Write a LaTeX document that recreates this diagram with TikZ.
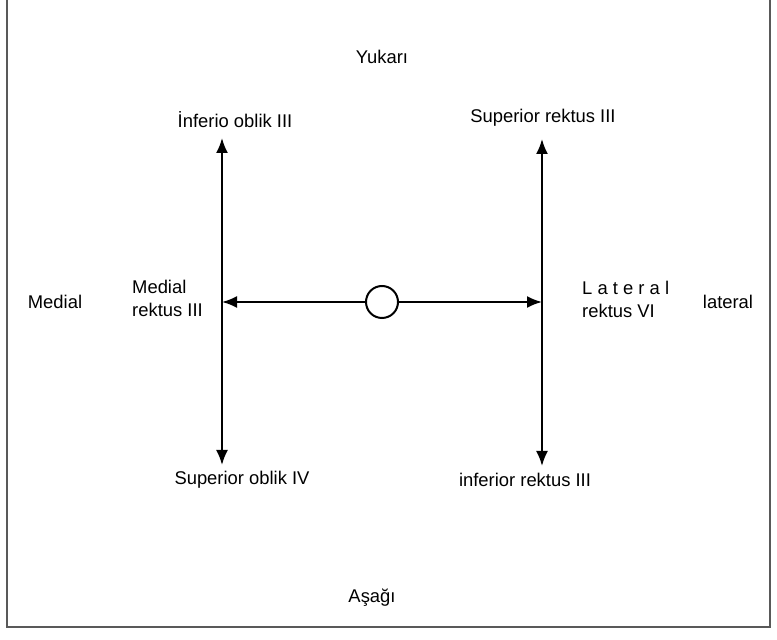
\documentclass[tikz,border=0pt]{standalone}
\usepackage{fontspec}
\setmainfont{Liberation Sans}
\usetikzlibrary{arrows.meta}

\begin{document}
\begin{tikzpicture}[
  x=1pt, y=1pt,
  lbl/.style={inner sep=0pt, font=\fontsize{18.4}{23}\selectfont},
  arrow/.style={-{Latex[length=15pt,width=12pt]}, line width=2pt},
  twoway/.style={{Latex[length=15pt,width=12pt]}-{Latex[length=15pt,width=12pt]}, line width=2pt},
  eye/.style={circle, draw, line width=2pt, minimum size=32pt, inner sep=0pt, fill=white}
]
  \useasboundingbox (0,0) rectangle (777,640);
  % frame
  \draw[line width=1.5pt, black!65] (7,640) -- (7,13) -- (770,13) -- (770,640);

  % Nodes
  \node[lbl] (up) at (382,583) {Yukarı};
  \node[lbl] (down) at (372,42) {Aşağı};
  \node[lbl] (medial) at (55,338) {Medial};
  \node[lbl] (lateral) at (728,338) {lateral};

  \node[lbl] (io) at (235,520) {İnferio oblik III};
  \node[lbl] (sr) at (543,522) {Superior rektus III};
  \node[lbl] (so) at (242,160) {Superior oblik IV};
  \node[lbl] (ir) at (525,160) {inferior rektus III};
  \node[lbl, align=left, anchor=west] (mr) at (132,341.5) {Medial\\rektus III};
  \node[lbl, align=left, anchor=west] (lr) at (582,341) {L a t e r a l\\rektus VI};

  \node[eye] (eye) at (382,338) {};

  \coordinate (lt) at (222,502);
  \coordinate (lb) at (222,175);
  \coordinate (ml) at (222,338);
  \coordinate (rt) at (542,501);
  \coordinate (rb) at (542,174);
  \coordinate (mrt) at (542,338);

  % Arrows
  \draw[twoway] (lt) -- (lb);
  \draw[twoway] (rt) -- (rb);
  \draw[arrow] (eye) -- (ml);
  \draw[arrow] (eye) -- (mrt);
\end{tikzpicture}
\end{document}
